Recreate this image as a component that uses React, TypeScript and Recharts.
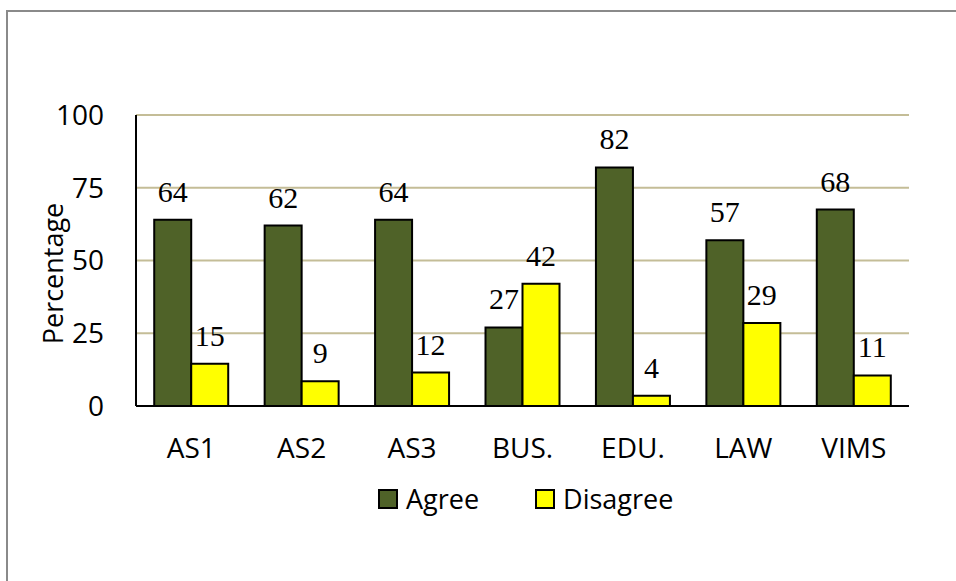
import { BarChart, Bar, XAxis, YAxis, CartesianGrid, Legend, LabelList } from 'recharts';

const categories = ['AS1', 'AS2', 'AS3', 'BUS.', 'EDU.', 'LAW', 'VIMS'];
const agree = [64, 62, 64, 27, 82, 57, 67.5];
const disagree = [14.5, 8.5, 11.5, 42, 3.5, 28.5, 10.5];
const yTicks = [0, 25, 50, 75, 100];

const data = categories.map((name, i) => ({ name, Agree: agree[i], Disagree: disagree[i] }));

const sans = '"Open Sans", sans-serif';
const serif = '"Liberation Serif", "Times New Roman", serif';

// eslint-disable-next-line @typescript-eslint/no-explicit-any
function renderLegend(props: any) {
  const { payload = [] } = props;
  return (
    <div style={{ display: 'flex', alignItems: 'center', fontFamily: sans, fontSize: 27, color: '#000' }}>
      {/* eslint-disable-next-line @typescript-eslint/no-explicit-any */}
      {payload.map((entry: any, i: number) => (
        <div key={entry.value} style={{ display: 'flex', alignItems: 'center', marginRight: i === 0 ? 56 : 0 }}>
          <svg width={20} height={20} style={{ marginRight: 8 }}>
            <rect x={1} y={1} width={18} height={18} fill={entry.color} stroke="#000" strokeWidth={2} />
          </svg>
          <span style={{ lineHeight: '30px' }}>{entry.value}</span>
        </div>
      ))}
    </div>
  );
}

// eslint-disable-next-line @typescript-eslint/no-explicit-any
function renderYLabel(props: any) {
  const { viewBox } = props;
  const x = viewBox.x + 16;
  const y = viewBox.y + viewBox.height / 2 + 13;
  return (
    <text x={x} y={y} transform={`rotate(-90 ${x} ${y})`} textAnchor="middle" dominantBaseline="central"
      fontFamily={sans} fontSize={27} fill="#000">
      Percentage
    </text>
  );
}

export default function App() {
  return (
    <div style={{ position: 'absolute', left: 0, top: 0, width: 956, height: 581, background: '#fff', overflow: 'hidden' }}>
      <div style={{ position: 'absolute', left: 6, top: 10, width: 980, height: 600, borderTop: '2px solid #8a8a8a', borderLeft: '2px solid #8a8a8a' }} />
      <BarChart
        width={956}
        height={581}
        data={data}
        margin={{ top: 115, right: 47, bottom: 115, left: 36 }}
        barGap={0}
        barCategoryGap="16.5%"
      >
        <CartesianGrid vertical={false} stroke="#C4BD97" strokeWidth={2} />
        <XAxis
          dataKey="name"
          height={60}
          axisLine={{ stroke: '#000', strokeWidth: 2 }}
          tickLine={false}
          tickMargin={26}
          tick={{ fill: '#000', fontSize: 28, fontFamily: sans }}
        />
        <YAxis
          width={100}
          domain={[0, 100]}
          ticks={yTicks}
          axisLine={{ stroke: '#000', strokeWidth: 2 }}
          tickLine={false}
          tickMargin={26}
          tick={{ fill: '#000', fontSize: 28, fontFamily: sans }}
          label={renderYLabel}
        />
        <Legend
          layout="horizontal"
          verticalAlign="middle"
          align="center"
          wrapperStyle={{ top: 484, left: 378, width: 440, height: 30 }}
          content={renderLegend}
        />
        <Bar dataKey="Agree" fill="#4F6228" stroke="#000" strokeWidth={2} isAnimationActive={false}>
          <LabelList dataKey="Agree" position="top" offset={18} formatter={(v: number) => Math.round(v)}
            fontFamily={serif} fontSize={30} fill="#000" />
        </Bar>
        <Bar dataKey="Disagree" fill="#FFFF00" stroke="#000" strokeWidth={2} isAnimationActive={false}>
          <LabelList dataKey="Disagree" position="top" offset={18} formatter={(v: number) => Math.round(v)}
            fontFamily={serif} fontSize={30} fill="#000" />
        </Bar>
      </BarChart>
    </div>
  );
}
